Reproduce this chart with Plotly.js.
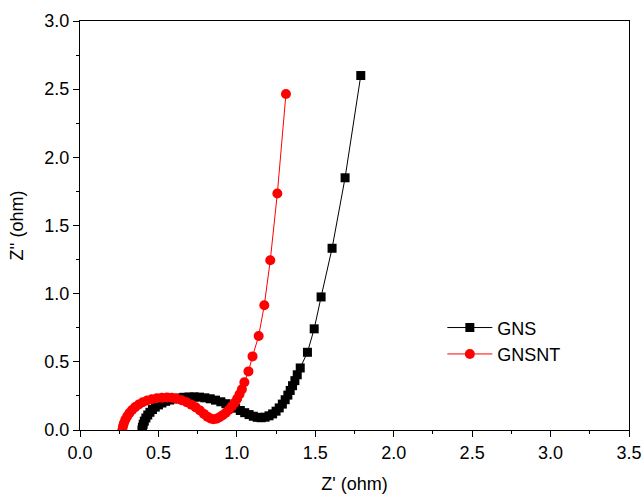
<!DOCTYPE html>
<html>
<head>
<meta charset="utf-8">
<script src="https://cdn.plot.ly/plotly-3.0.1.min.js"></script>
<style>html,body{margin:0;padding:0;background:#fff;}#chart{width:643px;height:494px;}</style>
</head>
<body>
<div id="chart"></div>
<script>
// GNS (black squares)
const gnsX = [0.395,0.398,0.403,0.410,0.420,0.432,0.446,0.462,0.480,0.500,0.522,0.546,0.572,0.600,0.630,0.662,0.695,0.728,0.762,0.796,0.830,0.864,0.898,0.930,0.962,0.992,1.022,1.050,1.078,1.105,1.130,1.155,1.180,1.205,1.228,1.250,1.270,1.290,1.308,1.325,1.340,1.355,1.370,1.385,1.404,1.450,1.493,1.537,1.607,1.690,1.790];
const gnsY = [0.000,0.020,0.042,0.065,0.088,0.110,0.130,0.150,0.168,0.184,0.198,0.210,0.220,0.228,0.235,0.240,0.242,0.243,0.241,0.236,0.229,0.219,0.207,0.193,0.177,0.160,0.143,0.127,0.113,0.101,0.093,0.090,0.094,0.104,0.118,0.138,0.162,0.190,0.222,0.256,0.290,0.325,0.362,0.405,0.455,0.570,0.742,0.976,1.333,1.850,2.600];
// GNSNT (red circles)
const gnsntX = [0.270,0.274,0.280,0.289,0.301,0.315,0.332,0.352,0.375,0.400,0.428,0.458,0.490,0.522,0.555,0.585,0.615,0.648,0.680,0.710,0.738,0.765,0.790,0.812,0.832,0.850,0.870,0.890,0.910,0.930,0.950,0.968,0.986,1.002,1.017,1.032,1.048,1.074,1.100,1.139,1.175,1.213,1.258,1.313];
const gnsntY = [0.000,0.025,0.050,0.075,0.100,0.124,0.147,0.168,0.187,0.203,0.216,0.226,0.233,0.237,0.238,0.236,0.230,0.218,0.203,0.186,0.166,0.143,0.118,0.098,0.084,0.079,0.083,0.094,0.109,0.127,0.149,0.173,0.200,0.229,0.262,0.298,0.350,0.430,0.540,0.690,0.915,1.245,1.735,2.465];
const seriesNames = ["GNS", "GNSNT"];

const font = {family: "Liberation Sans, Arial, Helvetica, sans-serif", size: 18, color: "#000"};

const traces = [
  {x: gnsX, y: gnsY, name: seriesNames[0], type: "scatter", mode: "lines+markers",
   line: {color: "#000", width: 1}, marker: {symbol: "square", size: 9, color: "#000"}},
  {x: gnsntX, y: gnsntY, name: seriesNames[1], type: "scatter", mode: "lines+markers",
   line: {color: "#ff0000", width: 1}, marker: {symbol: "circle", size: 10, color: "#ff0000"}}
];

const axisCommon = {
  showgrid: false, zeroline: false, showline: true, linecolor: "#000", linewidth: 1,
  mirror: true, ticks: "outside", ticklen: 6, tickwidth: 1, tickcolor: "#000",
  tickfont: font, dtick: 0.5, tickformat: ".1f", ticklabeloverflow: "allow",
  minor: {dtick: 0.25, ticks: "outside", ticklen: 3, tickwidth: 1, tickcolor: "#000"}
};

const layout = {
  width: 643, height: 494,
  margin: {l: 80, r: 14, t: 21, b: 64},
  paper_bgcolor: "#fff", plot_bgcolor: "#fff",
  font: font,
  showlegend: true,
  legend: {x: 0.66, y: 0.295, xanchor: "left", yanchor: "top", bgcolor: "rgba(0,0,0,0)",
           font: font, itemwidth: 45, tracegroupgap: 0},
  xaxis: Object.assign({}, axisCommon, {range: [0, 3.5], title: {text: "Z' (ohm)", font: font, standoff: 16}}),
  yaxis: Object.assign({}, axisCommon, {range: [0, 3.0], title: {text: "Z'' (ohm)", font: font, standoff: 16}})
};

Plotly.newPlot("chart", traces, layout, {displayModeBar: false, staticPlot: true});
</script>
</body>
</html>
